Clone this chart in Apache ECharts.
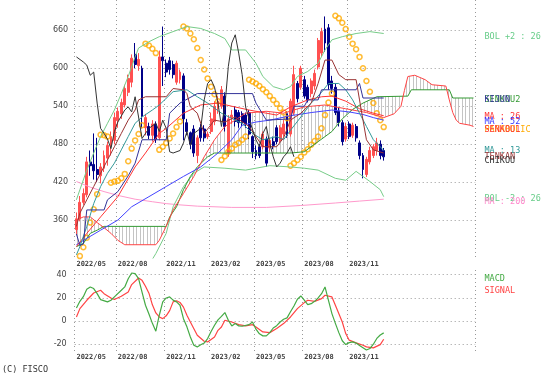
<!DOCTYPE html>
<html><head><meta charset="utf-8">
<script src="https://cdn.jsdelivr.net/npm/echarts@6/dist/echarts.min.js"></script>
<style>html,body{margin:0;padding:0;background:#fff}#c{width:555px;height:382px}</style>
</head><body><div id="c"></div>
<script>
// ---- data (weekly) ----
const weekCount = 116;
const tickIdx = [0, 12, 26, 39, 52, 66, 79];
const tickLabels = ['2022/05', '2022/08', '2022/11', '2023/02', '2023/05', '2023/08', '2023/11'];
// [open, close, low, high]
const candles = [
[345,362,336,372],[362,388,358,398],[388,402,384,410],[400,452,396,460],[452,446,430,470],
[448,438,424,497],[440,432,420,490],[430,444,418,450],[442,462,436,470],[458,478,446,484],
[476,492,462,500],[486,522,480,530],[518,532,506,538],[528,546,520,552],[542,568,538,574],
[562,584,556,590],[578,616,570,622],[622,606,600,640],[604,614,596,624],[600,524,505,604],
[506,522,494,528],[508,494,488,514],[494,512,484,518],[512,488,482,516],[490,618,486,628],
[618,612,572,666],[608,594,586,614],[612,598,590,618],[606,590,584,612],[578,608,574,612],
[582,594,576,598],[588,520,486,592],[514,500,494,520],[498,480,472,500],[504,466,460,510],
[462,490,450,494],[506,490,484,512],[504,490,484,510],[492,496,488,500],[500,520,496,530],
[516,540,510,548],[536,548,528,556],[540,566,536,572],[556,508,500,562],[466,520,460,526],
[522,526,512,534],[534,516,508,540],[530,514,506,534],[528,514,508,532],[526,512,506,530],
[530,496,488,534],[492,468,458,494],[470,462,456,478],[476,462,458,480],[476,496,472,500],
[488,450,444,492],[474,486,468,490],[484,478,472,492],[506,484,480,510],[486,506,482,510],
[496,512,492,518],[528,494,490,532],[496,548,492,552],[530,590,526,604],[576,552,546,580],
[570,600,566,604],[582,556,552,588],[570,550,546,574],[560,580,554,584],[572,592,566,598],
[602,644,598,648],[624,658,618,664],[662,640,626,682],[664,574,566,670],[580,568,560,588],
[570,530,526,576],[532,514,508,538],[514,484,478,518],[488,508,484,514],[512,492,488,516],
[494,510,490,514],[508,490,484,512],[482,462,456,486],[462,440,426,466],[432,456,428,460],
[452,470,448,476],[462,476,458,480],[470,482,462,490],[480,462,456,486],[470,460,454,474]
];
const ma13 = [[0,305],[1,318],[3,350],[5,386],[7,413],[9,434],[11,450],[13,471],[15,492],[17,513],[19,523],[22,534],[24,542],[28,563],[32,566],[35,555],[38,545],[42,529],[46,518],[48,513],[51,497],[54,487],[58,492],[60,487],[62,502],[65,523],[68,545],[71,562],[73,576],[76,576],[78,566],[80,550],[82,529],[84,508],[86,487],[88,476],[89,470]];
const ma26 = [[0,318],[3,339],[7,365],[12,397],[17,444],[20,466],[24,497],[26,505],[31,529],[36,542],[41,545],[45,540],[50,534],[55,529],[58,526],[62,539],[67,550],[71,555],[74,556],[78,548],[82,536],[86,529],[89,525]];
const ma52 = [[0,321],[3,331],[7,344],[12,360],[16,381],[21,397],[26,413],[31,429],[36,444],[41,466],[45,487],[48,510],[52,515],[56,518],[62,525],[68,530],[74,534],[79,531],[83,527],[86,522],[89,518]];
const ma200 = [[0,421],[4,412],[8,405],[12,399],[17,393],[22,389],[26,386],[30,384],[35,382],[45,380],[55,380],[65,383],[75,387],[82,390],[89,393]];
const bolUp = [[0,392],[1,408],[3,439],[5,466],[7,492],[9,513],[11,534],[13,560],[15,587],[17,618],[18,632],[21,642],[24,650],[28,658],[32,666],[36,663],[40,655],[43,647],[45,629],[49,629],[52,608],[54,587],[57,571],[60,566],[62,571],[64,587],[67,595],[70,608],[72,629],[74,645],[77,650],[81,655],[85,658],[89,655]];
const bolDn = [[17,240],[20,280],[23,307],[26,339],[28,381],[31,413],[34,434],[37,444],[43,442],[49,439],[56,446],[62,444],[66,442],[70,439],[75,426],[78,423],[81,437],[85,421],[88,408],[89,397]];
const tenkan = [[0,350],[1,371],[3,392],[5,413],[7,434],[9,455],[11,476],[13,497],[15,518],[17,534],[18,550],[20,555],[26,555],[28,568],[31,566],[32,560],[33,539],[35,529],[37,497],[40,518],[43,515],[46,523],[50,508],[54,476],[58,476],[60,490],[62,518],[65,529],[68,545],[70,576],[72,613],[74,613],[76,590],[78,582],[81,582],[82,550],[83,518],[84,487],[86,471],[89,466]];
const kijun = [[0,338],[1,320],[2,322],[3,376],[8,376],[9,392],[12,405],[15,430],[17,450],[19,487],[26,487],[27,529],[30,545],[35,560],[51,560],[52,545],[55,518],[62,520],[63,540],[66,540],[67,550],[70,550],[71,566],[81,566],[82,576],[83,553],[89,553]];
const chikou = [[0,618],[2,610],[3,605],[4,589],[5,594],[6,545],[7,505],[8,497],[9,488],[10,473],[11,500],[12,515],[14,534],[15,539],[16,531],[17,555],[18,523],[19,489],[21,505],[23,513],[24,500],[25,518],[26,505],[27,468],[28,466],[30,470],[31,482],[32,500],[33,478],[34,497],[36,505],[37,550],[38,576],[39,582],[40,570],[41,545],[42,508],[43,540],[44,603],[45,640],[46,653],[47,624],[48,590],[49,539],[50,520],[52,487],[53,476],[54,497],[55,508],[56,481],[57,460],[58,444],[59,450],[60,460],[61,466],[62,476],[63,460]];
const senkou1 = [[0,360],[2,365],[4,365],[6,356],[8,348],[10,339],[12,328],[14,321],[23,321],[24,328],[26,350],[28,376],[31,402],[34,429],[37,460],[40,487],[43,508],[46,518],[49,529],[55,532],[60,529],[66,539],[72,542],[78,536],[84,530],[89,522],[92,528],[94,540],[95,565],[96,587],[98,589],[101,582],[103,574],[107,572],[108,550],[109,530],[110,518],[111,513],[114,510],[115,508]];
const senkou2 = [[0,318],[2,323],[4,339],[6,344],[8,350],[26,350],[27,365],[29,381],[31,408],[33,429],[35,444],[38,460],[40,466],[62,466],[66,468],[70,484],[74,500],[77,520],[80,535],[83,545],[87,555],[96,556],[97,566],[108,566],[109,553],[115,553]];
const sar = [[1,303],[2,317],[3,332],[4,356],[5,377],[6,401],[7,495],[8,494],[9,492],[10,419],[11,421],[12,422],[13,426],[14,433],[15,453],[16,473],[17,486],[18,496],[19,510],[20,639],[21,636],[22,631],[23,624],[24,471],[25,476],[26,482],[27,489],[28,497],[29,507],[30,516],[31,666],[32,663],[33,655],[34,646],[35,632],[36,613],[37,598],[38,584],[39,571],[40,559],[41,548],[42,455],[43,461],[44,468],[45,473],[46,479],[47,482],[48,487],[49,492],[50,582],[51,579],[52,576],[53,572],[54,567],[55,562],[56,556],[57,550],[58,544],[59,537],[60,530],[61,521],[62,446],[63,450],[64,455],[65,460],[66,467],[67,472],[68,479],[69,485],[70,492],[71,505],[72,526],[73,546],[74,560],[75,683],[76,679],[77,672],[78,662],[79,650],[80,639],[81,630],[82,618],[83,600],[84,580],[85,563],[86,545],[87,529],[88,518],[89,507]];
const macd = [[0,11.3],[1,17],[2,21],[3,27.4],[4,29.4],[5,28],[6,23.6],[7,18.5],[9,16.5],[10,17.9],[11,20.8],[13,26.5],[14,29.4],[15,36.5],[16,41.4],[17,40.9],[18,36.5],[19,25],[20,13.6],[21,6],[22,-2],[23,-8.8],[24,5],[25,16.5],[26,19.9],[27,20.8],[28,18],[29,16.5],[30,13.6],[31,2],[32,-5],[33,-13.7],[34,-20.9],[35,-22.3],[36,-20.5],[37,-19],[38,-15.1],[39,-9],[40,-3.6],[41,1],[42,4],[43,7.3],[44,0.7],[45,-4.2],[46,-2.2],[47,-4.2],[48,-4.5],[50,-3.1],[51,-0.8],[52,-7],[53,-11],[54,-12.8],[55,-12.8],[56,-10],[57,-6],[58,-4],[59,-0.8],[60,1.5],[61,2.7],[62,8],[63,13],[64,18.8],[65,21.6],[66,18],[67,14.2],[68,15],[69,17],[70,20],[71,23.6],[72,29.4],[73,17.9],[74,6.4],[75,-2],[76,-10],[77,-17],[78,-20.3],[79,-18.6],[80,-18],[81,-19],[82,-21],[83,-23],[84,-25],[85,-23.7],[86,-20],[87,-15],[88,-12],[89,-10.2]];
const signal = [[0,3.5],[1,10.7],[3,17.9],[5,24.2],[7,26.5],[8,23.6],[10,19.9],[11,18.5],[13,21.3],[15,25],[16,31.4],[18,37.1],[19,35.1],[20,30],[21,24],[22,14],[23,7],[24,3.5],[25,2.1],[26,4.5],[27,9],[28,16.5],[29,17.5],[30,16],[31,12],[32,5],[33,-0.8],[35,-12.2],[37,-17.4],[38,-18],[40,-13.7],[41,-8],[42,-5.1],[43,0.7],[45,-0.8],[47,-3.1],[49,-4.2],[51,-3.1],[52,-5.1],[54,-9.4],[56,-10],[58,-6.5],[60,-2.2],[62,3.5],[64,10.7],[66,15.9],[67,17.9],[69,17],[71,19.3],[72,22.2],[74,20.8],[75,13.6],[77,-0.8],[78,-10.8],[79,-16.5],[81,-18.8],[83,-20.9],[84,-22.3],[86,-23.1],[88,-20.3],[89,-15.7]];

// ---- chart ----
const cats = [];
for (let i = 0; i < weekCount; i++) {
  const k = tickIdx.indexOf(i);
  cats.push(k >= 0 ? tickLabels[k] : 'w' + i);
}
const isTick = (i) => tickIdx.indexOf(i) >= 0;
const dotted = { color: '#999', width: 1, type: [1, 3] };

// hatch pattern for the cloud
const pc = document.createElement('canvas');
pc.width = 7; pc.height = 2;
const g = pc.getContext('2d');
g.fillStyle = '#c4c4c4';
g.fillRect(0, 0, 1, 2);
g.fillRect(3, 0, 1, 2);
const hatch = { image: pc, repeat: 'repeat' };

const chart = echarts.init(document.getElementById('c'), null, { renderer: 'canvas' });

function xAxisDef(gridIndex, margin) {
  return {
    type: 'category', gridIndex: gridIndex, data: cats, boundaryGap: true,
    axisLine: { show: false }, axisTick: { show: false },
    axisLabel: {
      interval: (i) => isTick(i), margin: margin, align: 'left',
      formatter: (v) => (v.indexOf('20') === 0 ? v : ''),
      fontSize: 7, fontWeight: 'bold', fontFamily: 'DejaVu Sans Mono', color: '#444'
    },
    splitLine: { show: true, interval: (i) => isTick(i), lineStyle: dotted }
  };
}

function line(name, data, color, extra) {
  return Object.assign({
    name: name, type: 'line', data: data, xAxisIndex: 0, yAxisIndex: 0,
    showSymbol: false, symbol: 'none', silent: true,
    lineStyle: { color: color, width: 1 }, itemStyle: { color: color }
  }, extra || {});
}

const labelFont = '8.5px "DejaVu Sans Mono"';
const labels = [
  ['BOL +2 : 26', '#66cc88', 36.7],
  ['SENKOU2', '#339933', 100],
  ['KIJUN', '#333399', 100],
  ['MA : 26', '#ff3333', 116.7],
  ['MA : 52', '#3333ff', 121.7],
  ['PARABOLIC', '#ffaa00', 129.3],
  ['SENKOU1', '#ff3333', 129.3],
  ['MA : 13', '#339999', 150.7],
  ['TENKAN', '#993333', 156.7],
  ['CHIKOU', '#333333', 160.7],
  ['BOL -2 : 26', '#66cc88', 198.3],
  ['MA : 200', '#ff88cc', 201.7],
  ['MACD', '#44aa44', 278.5],
  ['SIGNAL', '#ff4444', 290.5]
];
const graphics = labels.map((l) => ({
  type: 'text', x: 484.5, y: l[2], silent: true,
  style: { text: l[0], fill: l[1], font: labelFont, textVerticalAlign: 'middle', verticalAlign: 'middle' }
}));
graphics.push({ type: 'text', x: 2, y: 369.5, silent: true,
  style: { text: '(C) FISCO', fill: '#333', font: '8.5px "DejaVu Sans Mono"', textVerticalAlign: 'middle', verticalAlign: 'middle' } });

chart.setOption({
  animation: false,
  backgroundColor: '#fff',
  grid: [
    { left: 74.7, top: 0, width: 400.5, height: 258 },
    { left: 74.7, top: 270, width: 400.5, height: 81.2 }
  ],
  xAxis: [xAxisDef(0, 3), xAxisDef(1, 2.5)],
  yAxis: [
    { type: 'value', gridIndex: 0, min: 300, max: 708, interval: 60,
      axisLine: { show: false }, axisTick: { show: false },
      axisLabel: { showMinLabel: false, showMaxLabel: false, margin: 6.5, fontSize: 8, fontFamily: 'DejaVu Sans', color: '#444' },
      splitLine: { show: true, showMinLine: false, showMaxLine: false, lineStyle: dotted } },
    { type: 'value', gridIndex: 1, min: -26, max: 44, splitNumber: 4,
      axisLine: { show: false }, axisTick: { show: false },
      axisLabel: { showMinLabel: false, showMaxLabel: false, margin: 8, fontSize: 8, fontFamily: 'DejaVu Sans', color: '#444' },
      splitLine: { show: true, showMinLine: false, showMaxLine: false, lineStyle: dotted } }
  ],
  graphic: graphics,
  series: [
    {
      name: 'cloud', type: 'custom', xAxisIndex: 0, yAxisIndex: 0, silent: true, z: 1,
      data: [[0, 400]],
      renderItem: function (params, api) {
        const pts = [];
        senkou1.forEach((p) => pts.push(api.coord([p[0], p[1]])));
        for (let k = senkou2.length - 1; k >= 0; k--) pts.push(api.coord([senkou2[k][0], senkou2[k][1]]));
        return { type: 'polygon', shape: { points: pts }, style: { fill: hatch, stroke: null } };
      }
    },
    line('MA200', ma200, '#ff99cc'),
    line('BOL+2', bolUp, '#77cc88'),
    line('BOL-2', bolDn, '#77cc88'),
    line('SENKOU2', senkou2, '#339933'),
    line('SENKOU1', senkou1, '#ff4444'),
    line('MA52', ma52, '#4444ff'),
    line('MA26', ma26, '#ff3333'),
    line('MA13', ma13, '#339999'),
    line('KIJUN', kijun, '#333399'),
    line('TENKAN', tenkan, '#993333'),
    line('CHIKOU', chikou, '#333333'),
    {
      name: 'price', type: 'candlestick', xAxisIndex: 0, yAxisIndex: 0, data: candles, barWidth: 2.4, silent: true,
      itemStyle: { color: '#ff5050', color0: '#000088', borderColor: '#ff5050', borderColor0: '#000088', borderWidth: 1 }
    },
    {
      name: 'PARABOLIC', type: 'scatter', xAxisIndex: 0, yAxisIndex: 0, data: sar, symbol: 'circle', symbolSize: 5, silent: true,
      itemStyle: { color: 'rgba(255,255,255,0)', borderColor: '#ffaa00', borderWidth: 1.5 }
    },
    Object.assign(line('SIGNAL', signal, '#ff4444'), { xAxisIndex: 1, yAxisIndex: 1, lineStyle: { color: '#ff4444', width: 1.2 } }),
    Object.assign(line('MACD', macd, '#44aa44'), { xAxisIndex: 1, yAxisIndex: 1, lineStyle: { color: '#44aa44', width: 1.2 } })
  ]
});
</script>
</body></html>
